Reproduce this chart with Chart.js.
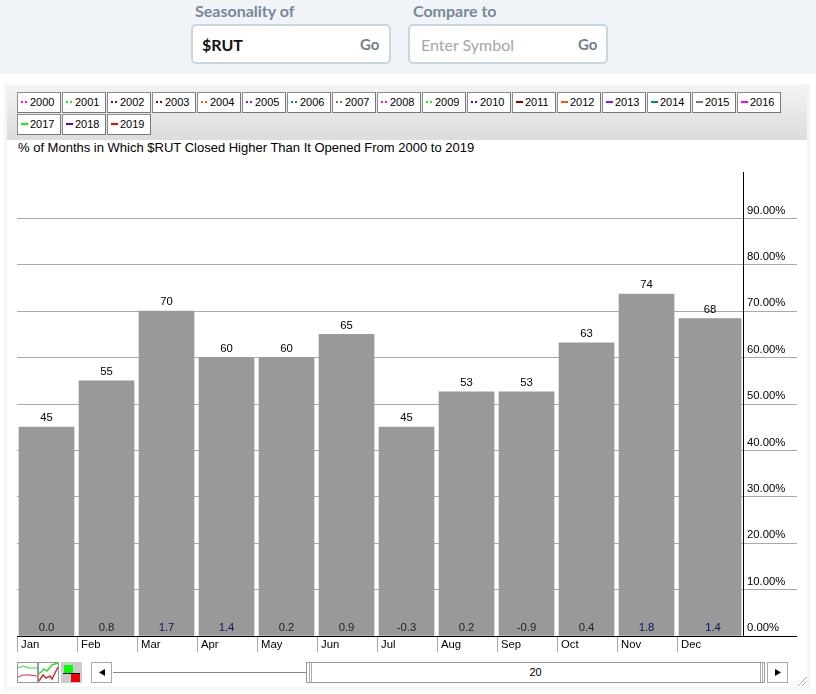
<!DOCTYPE html>
<html>
<head>
<meta charset="utf-8">
<script src="https://cdn.jsdelivr.net/npm/chart.js@4/dist/chart.umd.min.js"></script>
<style>
  html, body { margin: 0; padding: 0; background: #fff; }
  body { width: 816px; height: 694px; position: relative; overflow: hidden; font-family: "Liberation Sans", Arial, sans-serif; }
  .abs { position: absolute; }

  /* top form */
  .topbar { left: 0; top: 0; width: 816px; height: 74px; background: #f0f4f8; }
  .lbl { top: 1px; font: bold 16px Lato, sans-serif; color: #778899; }
  .box { top: 24px; width: 196px; height: 36px; background: #fff; border: 2px solid #c8d6e0; border-radius: 5px; }
  .sym { top: 35px; font: bold 16px Lato, sans-serif; color: #111; }
  .hint { top: 35px; font: 16px Lato, sans-serif; color: #a6a6a6; }
  .go { top: 35px; font: bold 15px Lato, sans-serif; color: #6f7f90; }

  /* chart frame */
  .frame { left: 4px; top: 84px; width: 806px; height: 606px; background: #f5f5f5; }
  .panel { left: 7px; top: 87px; width: 800px; height: 600px; background: #fff; }
  .head { left: 7px; top: 87px; width: 800px; height: 53px; background: linear-gradient(#f2f2f2, #dcdcdc); }
  .year { box-sizing: border-box; width: 44px; height: 21px; background: #fff; border: 1px solid #8c8c8c; border-right-color: #777; border-bottom-color: #777;
          font-size: 11px; line-height: 19px; color: #000; padding-left: 12px; }
  .sw { position: absolute; left: 3px; top: 8px; width: 7px; height: 2px; }
  .title { left: 18px; top: 140px; font-size: 13px; color: #000; }
  canvas { position: absolute; left: 0; top: 0; }

  /* bottom controls */
  .ctl { box-sizing: border-box; top: 662px; height: 21px; background: #fff; border: 1px solid #aaa; }
  .track { left: 113px; top: 672px; width: 194px; height: 1px; background: #888; }
  .thumb { box-sizing: border-box; left: 306px; top: 662px; width: 459px; height: 21px; background: #fff; border: 1px solid #999; font-size: 11px; line-height: 19px; text-align: center; color: #000; }
  .grip { top: 663px; width: 1px; height: 19px; background: #aaa; }
</style>
</head>
<body>
<div class="abs topbar"></div>
<div class="abs lbl" style="left:195px">Seasonality of</div>
<div class="abs box" style="left:191px"></div>
<div class="abs sym" style="left:202px">$RUT</div>
<div class="abs go" style="left:360px">Go</div>
<div class="abs lbl" style="left:413px">Compare to</div>
<div class="abs box" style="left:408px"></div>
<div class="abs hint" style="left:421px">Enter Symbol</div>
<div class="abs go" style="left:578px">Go</div>

<div class="abs frame"></div>
<div class="abs panel"></div>
<div class="abs head"></div>
<div id="years"></div>
<div class="abs title">% of Months in Which $RUT Closed Higher Than It Opened From 2000 to 2019</div>

<canvas id="seasonChart" width="816" height="694"></canvas>

<svg class="abs" style="left:17px;top:662px" width="65" height="21">
  <rect x="0.5" y="0.5" width="20" height="20" fill="#fff" stroke="#999"/>
  <polyline points="1,6 6,4 12,6 20,6" fill="none" stroke="#3d3" stroke-width="1"/>
  <polyline points="1,15 6,13 12,13 20,14" fill="none" stroke="#c33" stroke-width="1"/>
  <rect x="21.5" y="0.5" width="20" height="20" fill="#fff" stroke="#999"/>
  <polyline points="22,12 27,7 30,9 35,3 41,1" fill="none" stroke="#3d3" stroke-width="1.5"/>
  <polyline points="22,19 26,13 29,16 33,14 35,17 41,5" fill="none" stroke="#c33" stroke-width="1.5"/>
  <rect x="44" y="0" width="21" height="21" fill="#ccc"/>
  <rect x="47" y="3" width="9" height="9" fill="#0f0"/>
  <rect x="54" y="12" width="9" height="8" fill="#e00"/>
  <line x1="46" y1="11.5" x2="63" y2="11.5" stroke="#000"/>
</svg>
<div class="abs ctl" style="left:91px;width:21px"></div>
<svg class="abs" style="left:98px;top:669px" width="8" height="8"><polygon points="7,0 7,7 1,3.5" fill="#000"/></svg>
<div class="abs track"></div>
<div class="abs thumb">20</div>
<div class="abs grip" style="left:309px"></div>
<div class="abs grip" style="left:311px"></div>
<div class="abs grip" style="left:760px"></div>
<div class="abs grip" style="left:762px"></div>
<div class="abs ctl" style="left:767px;width:21px"></div>
<svg class="abs" style="left:774px;top:669px" width="8" height="8"><polygon points="1,0 1,7 7,3.5" fill="#000"/></svg>
<svg class="abs" style="left:796px;top:674px" width="12" height="13">
  <line x1="2" y1="12" x2="11" y2="3" stroke="#aaa"/><line x1="6" y1="12" x2="11" y2="7" stroke="#aaa"/>
</svg>

<script>
const months = ["Jan", "Feb", "Mar", "Apr", "May", "Jun", "Jul", "Aug", "Sep", "Oct", "Nov", "Dec"];
// % of months closing higher
const pctHigher = [45, 55, 70, 60, 60, 65, 45, 52.6, 52.6, 63.2, 73.7, 68.4];
// average % change, printed at the foot of each bar
const avgChange = ["0.0", "0.8", "1.7", "1.4", "0.2", "0.9", "-0.3", "0.2", "-0.9", "0.4", "1.8", "1.4"];
const yTicks = [0, 10, 20, 30, 40, 50, 60, 70, 80, 90, 100];
const years = [2000, 2001, 2002, 2003, 2004, 2005, 2006, 2007, 2008, 2009, 2010, 2011, 2012, 2013, 2014, 2015, 2016, 2017, 2018, 2019];
const yearColors = ["#f0f", "#0f0", "#50c", "#800", "#f50", "#a0f", "#088", "#777", "#f0f", "#0f0", "#50c", "#800", "#f50", "#a0f", "#088", "#777", "#f0f", "#0f0", "#50c", "#f00"];

// year buttons above the title
const yearsEl = document.getElementById("years");
years.forEach((y, i) => {
  const col = i % 17;
  const row = Math.floor(i / 17);
  const btn = document.createElement("div");
  btn.className = "abs year";
  btn.style.left = (17 + col * 45) + "px";
  btn.style.top = (92 + row * 22) + "px";
  btn.textContent = y;
  const sw = document.createElement("span");
  sw.className = "sw";
  const c = yearColors[i];
  // up to 2010 the swatch is dotted, after that a solid dash
  sw.style.background = y <= 2010
    ? `linear-gradient(90deg, ${c} 0 2px, transparent 2px 4px, ${c} 4px 6px, transparent 6px)`
    : c;
  btn.appendChild(sw);
  yearsEl.appendChild(btn);
});

const FONT = { family: '"Liberation Sans", Arial, sans-serif', size: 11.3 };

// value above each bar, average change at its foot, last bar runs up to the axis
const barExtras = {
  id: "barExtras",
  afterDatasetsUpdate(chart) {
    const last = chart.getDatasetMeta(0).data[pctHigher.length - 1];
    last.x += 3.5;
    last.width += 7;
  },
  afterDatasetsDraw(chart) {
    const ctx = chart.ctx;
    const zero = chart.scales.y.getPixelForValue(0);
    ctx.save();
    ctx.font = `${FONT.size}px ${FONT.family}`;
    ctx.textAlign = "center";
    ctx.textBaseline = "middle";
    chart.getDatasetMeta(0).data.forEach((bar, i) => {
      ctx.fillStyle = "#000";
      ctx.fillText(Math.round(pctHigher[i]), bar.x, bar.y - 9);
      ctx.fillStyle = avgChange[i] >= 1 ? "#101060" : "#222";
      const footX = i === pctHigher.length - 1 ? bar.x + 3 : bar.x;
      ctx.fillText(avgChange[i], footX, zero - 8);
    });
    ctx.restore();
  }
};

new Chart(document.getElementById("seasonChart").getContext("2d"), {
  type: "bar",
  data: {
    datasets: [{
      data: pctHigher.map((v, i) => ({ x: i + 0.492, y: v })),
      backgroundColor: "#999",
      barThickness: 55
    }]
  },
  plugins: [barExtras],
  options: {
    responsive: false,
    animation: false,
    layout: { padding: { left: 17, top: 172, right: 19, bottom: 42 } },
    plugins: { legend: { display: false }, tooltip: { enabled: false } },
    scales: {
      x: {
        type: "linear",
        offset: false,
        min: 0,
        max: 12.1,
        afterBuildTicks: s => { s.ticks = months.map((m, i) => ({ value: i })); },
        afterFit: s => { s.height = 16; },
        border: { color: "#000" },
        grid: { offset: false, drawOnChartArea: false, tickLength: 16, color: "#aaa" },
        ticks: {
          autoSkip: false,
          maxRotation: 0,
          align: "start",
          labelOffset: 4,
          padding: -14,
          color: "#000",
          font: FONT,
          callback: v => months[v]
        }
      },
      y: {
        position: "right",
        min: 0,
        max: 100,
        afterBuildTicks: s => { s.ticks = yTicks.map(v => ({ value: v })); },
        afterFit: s => { s.width = 54; },
        border: { color: "#000" },
        grid: {
          tickLength: 54,
          color: c => c.tick.value === 100 ? "rgba(0,0,0,0)" : c.tick.value === 0 ? "#000" : "#aaa"
        },
        ticks: {
          padding: -50,
          labelOffset: -8,
          color: "#000",
          font: FONT,
          callback: v => v === 100 ? "" : v.toFixed(2) + "%"
        }
      }
    }
  }
});
</script>
</body>
</html>
